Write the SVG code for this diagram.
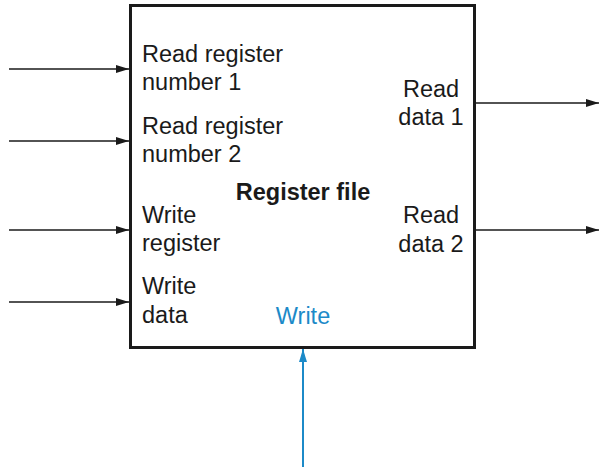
<svg xmlns="http://www.w3.org/2000/svg" width="606" height="467" viewBox="0 0 606 467">
<style>
text{font-family:"Liberation Sans",Arial,sans-serif;font-size:23.5px;fill:#1a1a1a}
.b{font-weight:bold}
.m{text-anchor:middle}
.w{fill:#1c8ac8}
.c{stroke:#1a1a1a;stroke-width:1.6;fill:none}
.cb{stroke:#1c8ac8;stroke-width:2;fill:none}
</style>
<defs>
<marker id="ah" markerWidth="14" markerHeight="10" refX="13" refY="5" orient="auto" markerUnits="userSpaceOnUse">
<path d="M0,1 L13,5 L0,9 Z" fill="#1a1a1a"/>
</marker>
<marker id="ahb" markerWidth="14" markerHeight="10" refX="13" refY="5" orient="auto" markerUnits="userSpaceOnUse">
<path d="M0,1 L13,5 L0,9 Z" fill="#1c8ac8"/>
</marker>
</defs>
<g id="register-file">
<rect x="130.5" y="5.5" width="344" height="342" fill="#fff" stroke="#1a1a1a" stroke-width="3"/>
<text x="142" y="62">Read register</text>
<text x="142" y="90">number 1</text>
<text x="142" y="134">Read register</text>
<text x="142" y="162">number 2</text>
<text x="142" y="223">Write</text>
<text x="142" y="251">register</text>
<text x="142" y="294">Write</text>
<text x="142" y="323">data</text>
<text class="m" x="431" y="97">Read</text>
<text class="m" x="431" y="125">data 1</text>
<text class="m" x="431" y="223">Read</text>
<text class="m" x="431" y="252">data 2</text>
<text class="b m" x="303" y="200">Register file</text>
<text class="w m" x="303" y="324">Write</text>
</g>
<g id="connectors">
<line class="c" x1="9" y1="69" x2="129" y2="69" marker-end="url(#ah)"/>
<line class="c" x1="9" y1="141" x2="129" y2="141" marker-end="url(#ah)"/>
<line class="c" x1="9" y1="230" x2="129" y2="230" marker-end="url(#ah)"/>
<line class="c" x1="9" y1="302" x2="129" y2="302" marker-end="url(#ah)"/>
<line class="c" x1="476" y1="103" x2="599" y2="103" marker-end="url(#ah)"/>
<line class="c" x1="476" y1="230" x2="599" y2="230" marker-end="url(#ah)"/>
<line class="cb" x1="303" y1="467" x2="303" y2="349" marker-end="url(#ahb)"/>
</g>
</svg>
